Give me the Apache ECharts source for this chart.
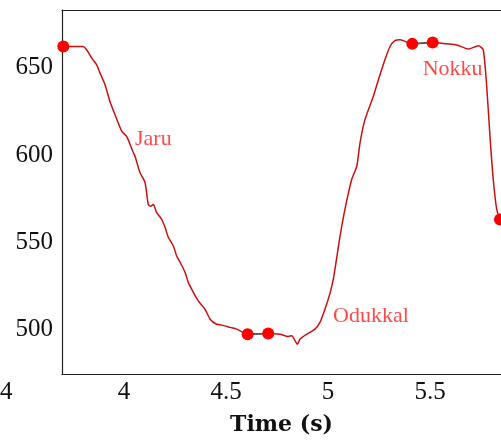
<!DOCTYPE html>
<html><head><meta charset="utf-8">
<script src="https://cdn.jsdelivr.net/npm/echarts@6/dist/echarts.min.js"></script>
<style>html,body{margin:0;padding:0;background:#fff}#c{width:501px;height:441px}</style>
</head><body><div id="c"></div>
<script>
// pitch contour (time s, value)
const curveT = [3.7025,3.799,3.817,3.842,3.866,3.882,3.907,3.931,3.956,3.989,4.013,4.046,4.054,4.078,4.103,4.119,4.131,4.144,4.160,4.185,4.201,4.217,4.242,4.258,4.275,4.299,4.315,4.340,4.364,4.397,4.422,4.454,4.479,4.520,4.552,4.606,4.707,4.765,4.805,4.822,4.850,4.863,4.896,4.936,4.961,4.985,5.010,5.026,5.043,5.059,5.083,5.116,5.141,5.157,5.181,5.222,5.247,5.279,5.304,5.328,5.353,5.413,5.513,5.582,5.631,5.688,5.737,5.761,5.778,5.794,5.810,5.827,5.843];
const curveV = [662.2,662.2,660.3,655.5,651.7,647.1,640.3,630.7,623.1,613.6,610.7,601.3,599.3,590.0,584.3,571.7,570.7,571.7,567.1,563.1,558.6,552.9,547.9,542.2,538.6,532.9,527.1,521.4,516.5,511.7,506.0,503.1,502.6,501.3,500.3,497.4,497.8,497.4,496.1,496.5,491.7,494.6,497.4,500.3,504.3,511.7,520.9,528.9,541.4,553.6,568.9,586.0,593.6,607.0,620.3,633.6,643.1,654.6,662.2,665.6,666.0,663.7,664.5,663.7,663.1,660.7,662.6,660.3,639.3,610.7,586.0,568.9,563.1];
// key points (dots)
const dotT = [3.7025,4.606,4.707,5.413,5.513,5.843];
const dotV = [662.2,497.4,497.8,663.7,664.5,563.1];
// held segments (pairs of dot indices)
const heldPairs = [[1,2],[3,4]];
// annotations
const noteNames = ['Jaru','Odukkal','Nokku'];
const noteT = [4.054,5.025,5.464];
const noteV = [608.9,507.7,648.9];
// ticks
const xTicks = [4,4.5,5,5.5];
const xTickLabels = ['4','4.5','5','5.5'];
const yTicks = [500,550,600,650];
const yTickLabels = ['500','550','600','650'];
const strayXLabel = '4';
const xTitle = 'Time (s)';

const heldData = [];
heldPairs.forEach((p,i)=>{ if(i>0) heldData.push([null,null]); heldData.push([dotT[p[0]],dotV[p[0]]],[dotT[p[1]],dotV[p[1]]]); });

const serif = '"Liberation Serif", "DejaVu Serif", serif';
const frame = {show:true, onZero:false, lineStyle:{color:'#222', width:1.2}};
const chart = echarts.init(document.getElementById('c'));
chart.setOption({
  animation:false,
  grid:{left:62, top:10, right:0, bottom:65},
  xAxis:[{type:'value', min:3.696, max:5.848, axisLine:frame, axisTick:{show:false}, splitLine:{show:false},
    axisLabel:{customValues:xTicks, formatter:v=>xTickLabels[xTicks.indexOf(+v.toFixed(2))] ?? '', fontFamily:serif, fontSize:25, color:'#111', margin:6},
    name:xTitle, nameLocation:'middle', nameGap:40, nameTextStyle:{fontFamily:'"DejaVu Serif", serif', fontWeight:'bold', fontSize:22, color:'#111'}},
    {type:'value', position:'top', min:3.696, max:5.848, axisLine:frame, axisTick:{show:false}, axisLabel:{show:false}, splitLine:{show:false}}],
  yAxis:{type:'value', min:474.6, max:683.1, axisLine:frame, axisTick:{show:false}, splitLine:{show:false},
    axisLabel:{customValues:yTicks, formatter:v=>yTickLabels[yTicks.indexOf(Math.round(v))] ?? '', fontFamily:serif, fontSize:25, color:'#111', margin:9}},
  graphic:[{type:'text', left:0, top:380, style:{text:strayXLabel, font:'25px '+serif, fill:'#111'}}],
  series:[
    {type:'line', data:curveT.map((t,i)=>[t,curveV[i]]), showSymbol:false, smooth:0.2, lineStyle:{color:'#cc1010', width:1.5}, z:2},
    {type:'line', data:heldData, showSymbol:false, connectNulls:false, lineStyle:{color:'#555', width:1.5}, z:3},
    {type:'scatter', data:dotT.map((t,i)=>[t,dotV[i]]), symbolSize:12, itemStyle:{color:'#ff0000', opacity:1}, clip:false, z:4},
    {type:'scatter', data:noteT.map((t,i)=>({name:noteNames[i], value:[t,noteV[i]]})), symbolSize:0, z:5,
      label:{show:true, position:'right', distance:0, formatter:p=>p.name, fontFamily:serif, fontSize:22, color:'#ff1a1a'}}
  ]
});
</script></body></html>
